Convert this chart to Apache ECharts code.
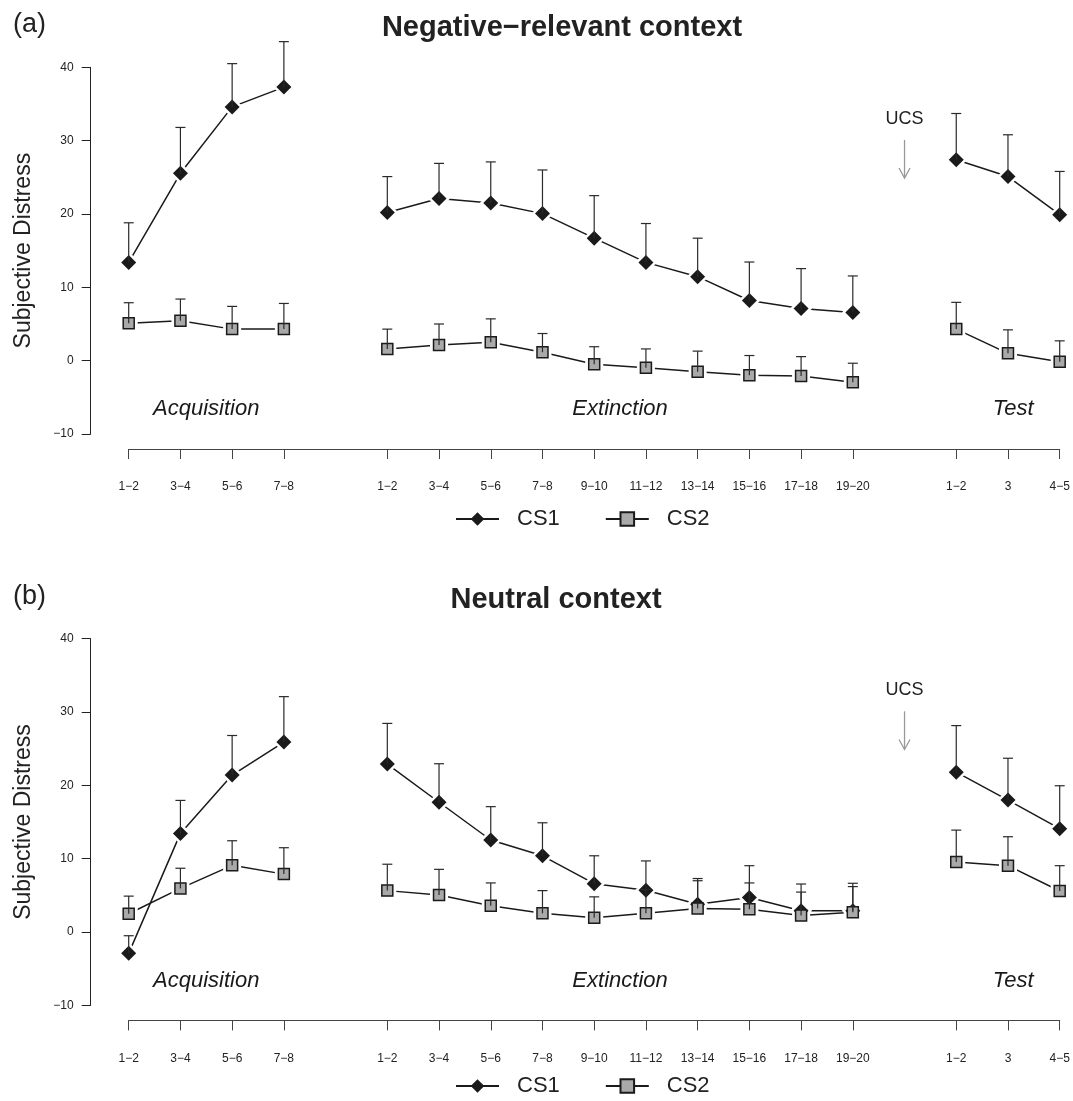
<!DOCTYPE html>
<html><head><meta charset="utf-8">
<script src="https://cdn.jsdelivr.net/npm/echarts@6/dist/echarts.min.js"></script>
<style>html,body{margin:0;padding:0;background:#fff}#c{width:1073px;height:1101px}</style>
</head><body><div id="c"></div>
<script>
// ---- tick labels ----
const acqLabels  = ['1\u22122','3\u22124','5\u22126','7\u22128'];
const extLabels  = ['1\u22122','3\u22124','5\u22126','7\u22128','9\u221210','11\u221212','13\u221214','15\u221216','17\u221218','19\u221220'];
const testLabels = ['1\u22122','3','4\u22125'];
const phaseNames = ['Acquisition','Extinction','Test'];
const seriesNames = ['CS1','CS2'];
const panelTitles = ['Negative\u2212relevant context','Neutral context'];
const panelLetters = ['(a)','(b)'];

// ---- panel (a): Negative-relevant context ----  means and upper error-bar ends
const aCS1Acq   = [13.4, 25.55, 34.6, 37.3];
const aCS1AcqUp = [18.8, 31.8, 40.5, 43.5];
const aCS1Ext   = [20.2, 22.1, 21.5, 20.05, 16.7, 13.4, 11.45, 8.2, 7.1, 6.55];
const aCS1ExtUp = [25.1, 26.9, 27.1, 26.0, 22.5, 18.7, 16.7, 13.45, 12.55, 11.55];
const aCS1Test  = [27.4, 25.1, 19.9];
const aCS1TestUp= [33.7, 30.8, 25.8];
const aCS2Acq   = [5.1, 5.45, 4.3, 4.3];
const aCS2AcqUp = [7.9, 8.4, 7.4, 7.8];
const aCS2Ext   = [1.6, 2.15, 2.5, 1.15, -0.5, -0.95, -1.5, -2.0, -2.1, -2.95];
const aCS2ExtUp = [4.3, 5.0, 5.7, 3.7, 1.9, 1.6, 1.3, 0.7, 0.55, -0.35];
const aCS2Test  = [4.3, 1.0, -0.15];
const aCS2TestUp= [7.95, 4.2, 2.7];

// ---- panel (b): Neutral context ----
const bCS1Acq   = [-2.9, 13.45, 21.4, 25.9];
const bCS1AcqUp = [-0.5, 17.95, 26.8, 32.1];
const bCS1Ext   = [22.9, 17.7, 12.55, 10.4, 6.6, 5.7, 3.8, 4.7, 2.9, 2.9];
const bCS1ExtUp = [28.45, 22.95, 17.1, 14.9, 10.4, 9.7, 7.3, 9.05, 6.55, 6.65];
const bCS1Test  = [21.8, 18.0, 14.1];
const bCS1TestUp= [28.15, 23.7, 19.95];
const bCS2Acq   = [2.5, 5.95, 9.1, 7.9];
const bCS2AcqUp = [4.9, 8.7, 12.45, 11.5];
const bCS2Ext   = [5.65, 5.05, 3.6, 2.55, 1.95, 2.55, 3.2, 3.1, 2.25, 2.7];
const bCS2ExtUp = [9.25, 8.55, 6.7, 5.65, 4.8, 5.8, 7.0, 6.7, 5.45, 6.2];
const bCS2Test  = [9.55, 9.05, 5.6];
const bCS2TestUp= [13.9, 13.0, 9.05];

// annotation values (in data units)
const ucsTextY = 33.0, ucsArrowFrom = 30.1, ucsArrowTo = 24.9;
const phaseLabelY = -6.6;

// ---- positions on the x scale (slot index) ----
const acqPos  = acqLabels.map((_, i) => i);
const extPos  = extLabels.map((_, i) => i + acqLabels.length + 1);
const ucsPos  = extPos[extPos.length - 1] + 1;
const testPos = testLabels.map((_, i) => i + ucsPos + 1);
const tickPos = acqPos.concat(extPos, testPos);
const tickText = {};
acqPos.forEach((p, i) => tickText[p] = acqLabels[i]);
extPos.forEach((p, i) => tickText[p] = extLabels[i]);
testPos.forEach((p, i) => tickText[p] = testLabels[i]);
const phaseX = [(acqPos[0] + acqPos[acqPos.length-1]) / 2,
                (extPos[0] + extPos[extPos.length-1]) / 2,
                testPos[1] + 0.1];

const FONT = '"Liberation Sans", Arial, Helvetica, sans-serif';
const INK = '#1a1a1a';

function lineData(acq, ext, test) {
  const out = [];
  acq.forEach((v, i) => out.push([acqPos[i], v]));
  out.push([acqPos[acqPos.length-1] + 1, '-']);
  ext.forEach((v, i) => out.push([extPos[i], v]));
  out.push([ucsPos, '-']);
  test.forEach((v, i) => out.push([testPos[i], v]));
  return out;
}
function pointData(acq, ext, test) {
  return lineData(acq, ext, test).filter(d => d[1] !== '-');
}
function errData(acq, ext, test, acqU, extU, testU) {
  const out = [];
  acq.forEach((v, i) => out.push([acqPos[i], v, acqU[i]]));
  ext.forEach((v, i) => out.push([extPos[i], v, extU[i]]));
  test.forEach((v, i) => out.push([testPos[i], v, testU[i]]));
  return out;
}

const panels = [
  { cs1: [aCS1Acq, aCS1Ext, aCS1Test], cs1u: [aCS1AcqUp, aCS1ExtUp, aCS1TestUp],
    cs2: [aCS2Acq, aCS2Ext, aCS2Test], cs2u: [aCS2AcqUp, aCS2ExtUp, aCS2TestUp] },
  { cs1: [bCS1Acq, bCS1Ext, bCS1Test], cs1u: [bCS1AcqUp, bCS1ExtUp, bCS1TestUp],
    cs2: [bCS2Acq, bCS2Ext, bCS2Test], cs2u: [bCS2AcqUp, bCS2ExtUp, bCS2TestUp] }
];

const gridTops = [67.3, 638.7];
const gridH = 366.7;
const legendTops = [503, 1070];
const titleTops = [8, 580];
const titleCenters = [557, 551];

const grids = [], xAxes = [], yAxes = [], series = [], titles = [], legends = [];

const sym = {
  CS1: { symbol: 'diamond', size: 15, halo: 22, itemStyle: { color: INK, borderColor: INK, borderWidth: 0, opacity: 1 } },
  CS2: { symbol: 'rect', size: 11, halo: 18, itemStyle: { color: '#a9a9a9', borderColor: INK, borderWidth: 1.5, opacity: 1 } }
};

panels.forEach((p, gi) => {
  grids.push({ left: 128.7, right: 13.3, top: gridTops[gi], height: gridH });
  xAxes.push({
    type: 'value', gridIndex: gi, min: 0, max: testPos[testPos.length-1], offset: 15,
    splitLine: { show: false },
    axisLine: { show: true, onZero: false, lineStyle: { color: '#444', width: 1 } },
    axisTick: { show: true, customValues: tickPos, length: 10, lineStyle: { color: '#444', width: 1 } },
    axisLabel: { customValues: tickPos, formatter: v => tickText[v] || '', fontSize: 12, margin: 32, color: '#222', fontFamily: FONT }
  });
  yAxes.push({
    type: 'value', gridIndex: gi, min: -10, max: 40, interval: 10, offset: 38,
    splitLine: { show: false },
    axisLine: { show: true, onZero: false, lineStyle: { color: '#222', width: 1 } },
    axisTick: { show: true, length: 9, lineStyle: { color: '#222', width: 1 } },
    axisLabel: { fontSize: 12, margin: 17, color: '#222', fontFamily: FONT,
      formatter: v => (v < 0 ? '\u2212' + Math.abs(v) : String(v)) },
    name: 'Subjective Distress', nameLocation: 'middle', nameGap: 56,
    nameTextStyle: { fontSize: 23, color: '#222', fontFamily: FONT }
  });
  titles.push({ text: panelLetters[gi], left: 8, top: titleTops[gi] - 2,
    textStyle: { fontSize: 27, fontWeight: 'normal', color: '#222', fontFamily: FONT } });
  titles.push({ text: panelTitles[gi], left: titleCenters[gi], textAlign: 'center', top: titleTops[gi],
    textStyle: { fontSize: 29, fontWeight: 'bold', color: '#222', fontFamily: FONT } });
  legends.push({
    data: seriesNames, left: 450, top: legendTops[gi], itemWidth: 43, itemHeight: 17, itemGap: 45,
    selectedMode: false,
    textStyle: { fontSize: 22, color: '#222', fontFamily: FONT, padding: [0, 0, 0, 13] }
  });

  const groups = { CS1: [p.cs1, p.cs1u], CS2: [p.cs2, p.cs2u] };
  // lines (these also give legend icons)
  seriesNames.forEach(nm => {
    const s = sym[nm];
    series.push({
      name: nm, type: 'line', xAxisIndex: gi, yAxisIndex: gi,
      data: lineData(...groups[nm][0]), connectNulls: false,
      symbol: s.symbol, symbolSize: s.size, showSymbol: true,
      itemStyle: s.itemStyle,
      lineStyle: { color: INK, width: 1.5 }, z: 2, silent: true, animation: false
    });
  });
  // white halos (gap between line and marker)
  seriesNames.forEach(nm => {
    const s = sym[nm];
    series.push({
      name: nm + ' halo', type: 'scatter', xAxisIndex: gi, yAxisIndex: gi,
      data: pointData(...groups[nm][0]), symbol: s.symbol, symbolSize: s.halo,
      itemStyle: { color: '#fff', opacity: 1 }, z: 3, silent: true, animation: false
    });
  });
  // markers
  seriesNames.forEach(nm => {
    const s = sym[nm];
    series.push({
      name: nm + ' marker', type: 'scatter', xAxisIndex: gi, yAxisIndex: gi,
      data: pointData(...groups[nm][0]), symbol: s.symbol, symbolSize: s.size,
      itemStyle: s.itemStyle, z: 4, silent: true, animation: false
    });
  });
  // error bars (upper only)
  seriesNames.forEach(nm => {
    const [m, u] = groups[nm];
    series.push({
      name: nm + ' error', type: 'custom', xAxisIndex: gi, yAxisIndex: gi, z: 5, silent: true, animation: false,
      data: errData(m[0], m[1], m[2], u[0], u[1], u[2]),
      encode: { x: 0, y: [1, 2] },
      renderItem: (params, api) => {
        const a = api.coord([api.value(0), api.value(1)]);
        const b = api.coord([api.value(0), api.value(2)]);
        return { type: 'group', children: [
          { type: 'line', shape: { x1: a[0], y1: a[1], x2: b[0], y2: b[1] }, style: { stroke: '#2a2a2a', lineWidth: 1.2 } },
          { type: 'line', shape: { x1: b[0] - 5, y1: b[1], x2: b[0] + 5, y2: b[1] }, style: { stroke: '#2a2a2a', lineWidth: 1.2 } }
        ]};
      }
    });
  });
  // phase labels
  series.push({
    name: 'phases', type: 'scatter', xAxisIndex: gi, yAxisIndex: gi, z: 6, silent: true, animation: false,
    symbolSize: 1, itemStyle: { color: 'rgba(0,0,0,0)', opacity: 1 },
    data: phaseNames.map((n, i) => ({ name: n, value: [phaseX[i], phaseLabelY] })),
    label: { show: true, position: 'inside', formatter: d => d.name,
      fontSize: 22, fontStyle: 'italic', color: '#1a1a1a', fontFamily: FONT }
  });
  // UCS label
  series.push({
    name: 'ucs', type: 'scatter', xAxisIndex: gi, yAxisIndex: gi, z: 6, silent: true, animation: false,
    symbolSize: 1, itemStyle: { color: 'rgba(0,0,0,0)', opacity: 1 },
    data: [{ name: 'UCS', value: [ucsPos, ucsTextY] }],
    label: { show: true, position: 'inside', formatter: 'UCS', fontSize: 18, color: '#222', fontFamily: FONT }
  });
  // UCS arrow
  series.push({
    name: 'ucs arrow', type: 'custom', xAxisIndex: gi, yAxisIndex: gi, z: 6, silent: true, animation: false,
    data: [[ucsPos, ucsArrowFrom, ucsArrowTo]],
    encode: { x: 0, y: [1, 2] },
    renderItem: (params, api) => {
      const a = api.coord([api.value(0), api.value(1)]);
      const b = api.coord([api.value(0), api.value(2)]);
      const st = { stroke: '#999', lineWidth: 1.3, fill: null };
      return { type: 'group', children: [
        { type: 'line', shape: { x1: a[0], y1: a[1], x2: b[0], y2: b[1] }, style: st },
        { type: 'polyline', shape: { points: [[b[0] - 5.5, b[1] - 10], [b[0], b[1]], [b[0] + 5.5, b[1] - 10]] }, style: st }
      ]};
    }
  });
});

const chart = echarts.init(document.getElementById('c'), null, { renderer: 'canvas' });
chart.setOption({
  animation: false,
  backgroundColor: '#fff',
  textStyle: { fontFamily: FONT },
  title: titles,
  legend: legends,
  grid: grids,
  xAxis: xAxes,
  yAxis: yAxes,
  series: series
});
</script></body></html>
